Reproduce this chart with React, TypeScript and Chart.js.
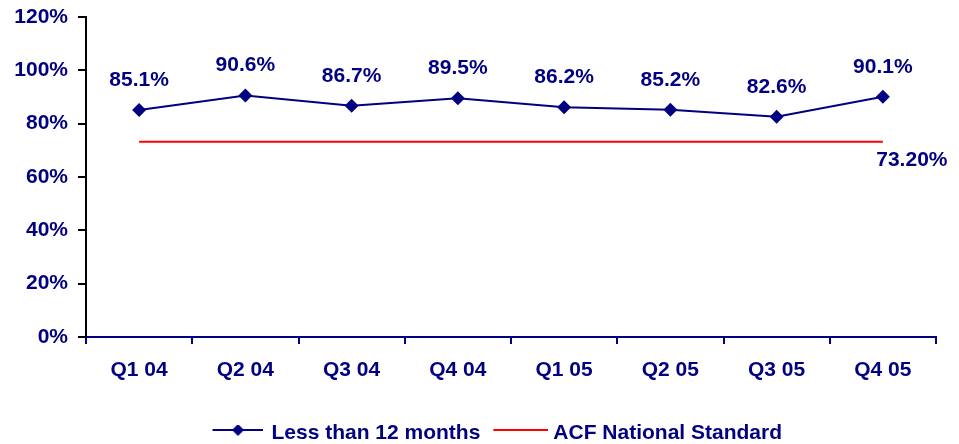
import React, { useEffect, useRef } from 'react';
import { Chart, registerables } from 'chart.js';

Chart.register(...registerables);

const categories = ['Q1 04', 'Q2 04', 'Q3 04', 'Q4 04', 'Q1 05', 'Q2 05', 'Q3 05', 'Q4 05'];
const lessThan12Months = [85.1, 90.6, 86.7, 89.5, 86.2, 85.2, 82.6, 90.1];
const acfNationalStandard = [73.2, 73.2, 73.2, 73.2, 73.2, 73.2, 73.2, 73.2];
const acfLabel = '73.20%';
const seriesNames = ['Less than 12 months', 'ACF National Standard'];
const yMin = 0;
const yMax = 120;
const yStep = 20;

const NAVY = '#000080';
const RED = '#ff0000';
const FONT = 'Liberation Sans';
const FSIZE = 21;

function makeLegendImage(color: string, width: number, lineStart: number, withDiamond: boolean): HTMLCanvasElement {
  const c = document.createElement('canvas');
  c.width = width;
  c.height = 16;
  const ctx = c.getContext('2d')!;
  ctx.strokeStyle = color;
  ctx.lineWidth = 2;
  ctx.beginPath();
  ctx.moveTo(lineStart, 5);
  ctx.lineTo(width, 5);
  ctx.stroke();
  if (withDiamond) {
    const cx = (lineStart + width) / 2;
    ctx.fillStyle = color;
    ctx.beginPath();
    ctx.moveTo(cx, -1);
    ctx.lineTo(cx + 6, 5);
    ctx.lineTo(cx, 11);
    ctx.lineTo(cx - 6, 5);
    ctx.closePath();
    ctx.fill();
  }
  return c;
}

const dataLabelPlugin = {
  id: 'dataLabels',
  afterLayout(chart: any) {
    // place the legend row where the reference has it
    if (chart.legend) {
      chart.legend.left = 55.5;
      chart.legend.right = 935.5;
    }
  },
  afterDatasetsDraw(chart: any) {
    const ctx = chart.ctx;
    ctx.save();
    ctx.font = `bold ${FSIZE}px "${FONT}"`;
    ctx.fillStyle = NAVY;
    ctx.textAlign = 'center';
    ctx.textBaseline = 'middle';
    const meta0 = chart.getDatasetMeta(0);
    meta0.data.forEach((pt: any, i: number) => {
      ctx.fillText(lessThan12Months[i].toFixed(1) + '%', pt.x, pt.y - 30);
    });
    const meta1 = chart.getDatasetMeta(1);
    const last = meta1.data[meta1.data.length - 1];
    if (last) ctx.fillText(acfLabel, last.x + 29, last.y + 18);
    ctx.restore();
  },
};

export default function App() {
  const ref = useRef<HTMLCanvasElement>(null);
  useEffect(() => {
    const navyImg = makeLegendImage(NAVY, 57, 6, true);
    const redImg = makeLegendImage(RED, 63, 8, false);
    const font = { family: FONT, size: FSIZE, weight: 'bold' as const };
    const chart = new Chart(ref.current!, {
      type: 'line',
      data: {
        labels: categories,
        datasets: [
          {
            label: seriesNames[0],
            data: lessThan12Months,
            borderColor: NAVY,
            backgroundColor: NAVY,
            borderWidth: 2,
            pointStyle: 'rectRot',
            pointRadius: 7,
            pointBackgroundColor: NAVY,
            pointBorderColor: NAVY,
            pointBorderWidth: 0,
            tension: 0,
          },
          {
            label: seriesNames[1],
            data: acfNationalStandard,
            borderColor: RED,
            backgroundColor: RED,
            borderWidth: 2,
            pointRadius: 0,
            tension: 0,
          },
        ],
      },
      options: {
        responsive: false,
        animation: false,
        devicePixelRatio: 1,
        layout: { padding: { top: 17, right: 23, left: 0, bottom: -9.5 } },
        plugins: {
          tooltip: { enabled: false },
          legend: {
            position: 'bottom',
            labels: {
              usePointStyle: true,
              pointStyleWidth: 52,
              padding: 10.5,
              color: NAVY,
              font,
              generateLabels: () => [
                { text: seriesNames[0], pointStyle: navyImg, fillStyle: NAVY, strokeStyle: NAVY, lineWidth: 0, hidden: false, datasetIndex: 0, fontColor: NAVY },
                { text: seriesNames[1], pointStyle: redImg, fillStyle: RED, strokeStyle: RED, lineWidth: 0, hidden: false, datasetIndex: 1, fontColor: NAVY },
              ] as any,
            },
          },
        },
        scales: {
          x: {
            offset: true,
            grid: { display: true, drawOnChartArea: false, drawTicks: true, tickLength: 7, color: NAVY, lineWidth: 2, offset: true },
            border: { color: NAVY, width: 2 },
            ticks: { color: NAVY, padding: 14, font, maxRotation: 0, autoSkip: false },
            afterFit: (s: any) => { s.height = 75; },
          },
          y: {
            min: yMin,
            max: yMax,
            ticks: { stepSize: yStep, color: NAVY, padding: 10, font, callback: (v: any) => v + '%' },
            grid: { display: true, drawOnChartArea: false, drawTicks: true, tickLength: 8, color: '#000000', lineWidth: 2 },
            border: { color: '#000000', width: 2 },
            afterFit: (s: any) => { s.width = 86; s.paddingTop = 0; s.paddingBottom = 0; },
          },
        },
      },
      plugins: [dataLabelPlugin],
    });
    return () => chart.destroy();
  }, []);
  return (
    <div style={{ position: 'fixed', left: 0, top: 0, width: 959, height: 444, background: '#fff' }}>
      <canvas ref={ref} width={959} height={444} />
    </div>
  );
}
